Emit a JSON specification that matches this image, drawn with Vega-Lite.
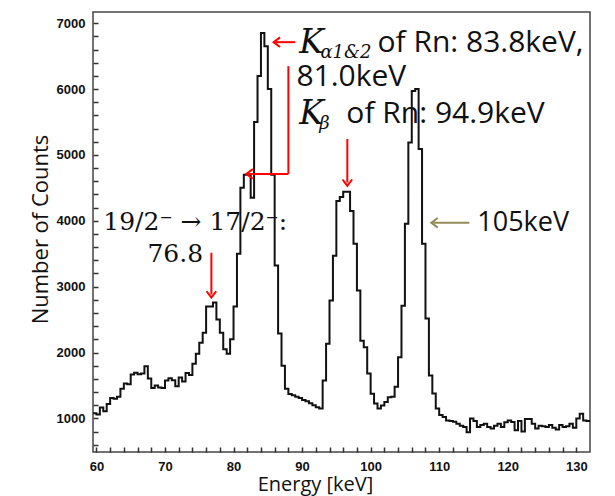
{
  "$schema": "https://vega.github.io/schema/vega-lite/v6.json",
  "width": 497,
  "height": 440,
  "autosize": {"type": "none"},
  "padding": {"left": 93, "top": 12, "right": 25, "bottom": 44},
  "background": "white",
  "config": {"view": {"stroke": "#444", "strokeWidth": 1.5}},
  "datasets": {
    "spectrum": [
      {"E": 59.5, "counts": 1080}, {"E": 60.0, "counts": 1060}, {"E": 60.5, "counts": 1165}, {"E": 61.0, "counts": 1110},
      {"E": 61.5, "counts": 1220}, {"E": 62.0, "counts": 1310}, {"E": 62.5, "counts": 1300}, {"E": 63.0, "counts": 1330},
      {"E": 63.5, "counts": 1450}, {"E": 64.0, "counts": 1530}, {"E": 64.5, "counts": 1520}, {"E": 65.0, "counts": 1665},
      {"E": 65.5, "counts": 1695}, {"E": 66.0, "counts": 1670}, {"E": 66.5, "counts": 1680}, {"E": 67.0, "counts": 1790},
      {"E": 67.5, "counts": 1605}, {"E": 68.0, "counts": 1460}, {"E": 68.5, "counts": 1500}, {"E": 69.0, "counts": 1470},
      {"E": 69.5, "counts": 1460}, {"E": 70.0, "counts": 1575}, {"E": 70.5, "counts": 1610}, {"E": 71.0, "counts": 1580},
      {"E": 71.5, "counts": 1490}, {"E": 72.0, "counts": 1620}, {"E": 72.5, "counts": 1560}, {"E": 73.0, "counts": 1690},
      {"E": 73.5, "counts": 1660}, {"E": 74.0, "counts": 1830}, {"E": 74.5, "counts": 1980}, {"E": 75.0, "counts": 2150},
      {"E": 75.5, "counts": 2300}, {"E": 76.0, "counts": 2700}, {"E": 76.5, "counts": 2700}, {"E": 77.0, "counts": 2760},
      {"E": 77.5, "counts": 2500}, {"E": 78.0, "counts": 2300}, {"E": 78.5, "counts": 2050}, {"E": 79.0, "counts": 1980},
      {"E": 79.5, "counts": 2200}, {"E": 80.0, "counts": 2700}, {"E": 80.5, "counts": 3500}, {"E": 81.0, "counts": 4500},
      {"E": 81.5, "counts": 4700}, {"E": 82.0, "counts": 4700}, {"E": 82.5, "counts": 4350}, {"E": 83.0, "counts": 5500},
      {"E": 83.5, "counts": 6200}, {"E": 84.0, "counts": 6850}, {"E": 84.5, "counts": 6650}, {"E": 85.0, "counts": 6000},
      {"E": 85.5, "counts": 4700}, {"E": 86.0, "counts": 3320}, {"E": 86.5, "counts": 2290}, {"E": 87.0, "counts": 1800},
      {"E": 87.5, "counts": 1450}, {"E": 88.0, "counts": 1370}, {"E": 88.5, "counts": 1350}, {"E": 89.0, "counts": 1330},
      {"E": 89.5, "counts": 1310}, {"E": 90.0, "counts": 1280}, {"E": 90.5, "counts": 1260}, {"E": 91.0, "counts": 1230},
      {"E": 91.5, "counts": 1200}, {"E": 92.0, "counts": 1170}, {"E": 92.5, "counts": 1150}, {"E": 93.0, "counts": 1575},
      {"E": 93.5, "counts": 2135}, {"E": 94.0, "counts": 2790}, {"E": 94.5, "counts": 3470}, {"E": 95.0, "counts": 4300},
      {"E": 95.5, "counts": 4360}, {"E": 96.0, "counts": 4440}, {"E": 96.5, "counts": 4440}, {"E": 97.0, "counts": 4150},
      {"E": 97.5, "counts": 3650}, {"E": 98.0, "counts": 2940}, {"E": 98.5, "counts": 2180}, {"E": 99.0, "counts": 2080},
      {"E": 99.5, "counts": 1680}, {"E": 100.0, "counts": 1375}, {"E": 100.5, "counts": 1225}, {"E": 101.0, "counts": 1150},
      {"E": 101.5, "counts": 1195}, {"E": 102.0, "counts": 1250}, {"E": 102.5, "counts": 1320}, {"E": 103.0, "counts": 1330},
      {"E": 103.5, "counts": 1480}, {"E": 104.0, "counts": 1930}, {"E": 104.5, "counts": 2710}, {"E": 105.0, "counts": 3955},
      {"E": 105.5, "counts": 5190}, {"E": 106.0, "counts": 5970}, {"E": 106.5, "counts": 6000}, {"E": 107.0, "counts": 5090},
      {"E": 107.5, "counts": 3650}, {"E": 108.0, "counts": 2515}, {"E": 108.5, "counts": 1650}, {"E": 109.0, "counts": 1380},
      {"E": 109.5, "counts": 1150}, {"E": 110.0, "counts": 1050}, {"E": 110.5, "counts": 1020}, {"E": 111.0, "counts": 970},
      {"E": 111.5, "counts": 960}, {"E": 112.0, "counts": 950}, {"E": 112.5, "counts": 920}, {"E": 113.0, "counts": 890},
      {"E": 113.5, "counts": 870}, {"E": 114.0, "counts": 790}, {"E": 114.5, "counts": 1000}, {"E": 115.0, "counts": 960},
      {"E": 115.5, "counts": 870}, {"E": 116.0, "counts": 900}, {"E": 116.5, "counts": 920}, {"E": 117.0, "counts": 870},
      {"E": 117.5, "counts": 845}, {"E": 118.0, "counts": 890}, {"E": 118.5, "counts": 920}, {"E": 119.0, "counts": 870},
      {"E": 119.5, "counts": 940}, {"E": 120.0, "counts": 970}, {"E": 120.5, "counts": 945}, {"E": 121.0, "counts": 820},
      {"E": 121.5, "counts": 960}, {"E": 122.0, "counts": 800}, {"E": 122.5, "counts": 990}, {"E": 123.0, "counts": 990},
      {"E": 123.5, "counts": 920}, {"E": 124.0, "counts": 845}, {"E": 124.5, "counts": 890}, {"E": 125.0, "counts": 880},
      {"E": 125.5, "counts": 870}, {"E": 126.0, "counts": 900}, {"E": 126.5, "counts": 860}, {"E": 127.0, "counts": 830},
      {"E": 127.5, "counts": 900}, {"E": 128.0, "counts": 870}, {"E": 128.5, "counts": 880}, {"E": 129.0, "counts": 920},
      {"E": 129.5, "counts": 860}, {"E": 130.0, "counts": 1000}, {"E": 130.5, "counts": 1070}, {"E": 131.0, "counts": 970},
      {"E": 131.5, "counts": 960}, {"E": 132.0, "counts": 960}
    ],
    "redRules": [
      {"E": 89.0, "counts": 6712, "E2": 86.0, "counts2": 6712},
      {"E": 88.0, "counts": 6348, "E2": 88.0, "counts2": 4712},
      {"E": 88.0, "counts": 4712, "E2": 82.0, "counts2": 4712},
      {"E": 96.6, "counts": 5242, "E2": 96.6, "counts2": 4580},
      {"E": 76.77, "counts": 3515, "E2": 76.77, "counts2": 2880}
    ],
    "redHeadsLeft": [
      {"E": 85.85, "counts": 6712},
      {"E": 81.87, "counts": 4712}
    ],
    "redHeadsDown": [
      {"E": 96.6, "counts": 4530},
      {"E": 76.77, "counts": 2833}
    ],
    "oliveRule": [
      {"E": 114.4, "counts": 3969, "E2": 109.0, "counts2": 3969}
    ],
    "oliveHead": [
      {"E": 108.85, "counts": 3969}
    ],
    "sansText": [
      {"E": 101.0, "counts": 6696, "label": "of Rn: 83.8keV,"},
      {"E": 89.17, "counts": 6181, "label": "81.0keV"},
      {"E": 96.46, "counts": 5621, "label": "of Rn: 94.9keV"}
    ],
    "smallSansText": [
      {"E": 115.56, "counts": 3969, "label": "105keV"}
    ],
    "kText": [
      {"E": 89.6, "counts": 6696, "label": "K"},
      {"E": 89.6, "counts": 5621, "label": "K"}
    ],
    "subText": [
      {"E": 92.67, "counts": 6545, "label": "α1&2"},
      {"E": 92.5, "counts": 5470, "label": "β"}
    ],
    "serifText": [
      {"E": 61.0, "counts": 3985, "label": "19/2⁻ → 17/2⁻:"},
      {"E": 67.44, "counts": 3500, "label": "76.8"}
    ]
  },
  "encoding": {
    "x": {
      "field": "E",
      "type": "quantitative",
      "scale": {"domain": [59.5, 132], "nice": false, "zero": false},
      "axis": {
        "values": [60,62,64,66,68,70,72,74,76,78,80,82,84,86,88,90,92,94,96,98,100,102,104,106,108,110,112,114,116,118,120,122,124,126,128,130],
        "labelExpr": "datum.value % 10 === 0 ? datum.label : ''",
        "offset": -5,
        "domain": false,
        "ticks": true,
        "tickSize": 5,
        "tickWidth": 1.5,
        "tickColor": "#333",
        "labelPadding": 8,
        "labelFont": "Liberation Sans",
        "labelFontWeight": "bold",
        "labelFontSize": 13,
        "labelColor": "#111",
        "labelOverlap": false,
        "labelFlush": false,
        "grid": false,
        "title": "Energy [keV]",
        "titleFont": "Open Sans",
        "titleFontSize": 20,
        "titleFontWeight": "normal",
        "titleColor": "#111",
        "titleX": 222,
        "titleY": 37,
        "titleBaseline": "middle"
      }
    },
    "y": {
      "field": "counts",
      "type": "quantitative",
      "scale": {"domain": [490, 7170], "nice": false, "zero": false},
      "axis": {
        "values": [600,800,1000,1200,1400,1600,1800,2000,2200,2400,2600,2800,3000,3200,3400,3600,3800,4000,4200,4400,4600,4800,5000,5200,5400,5600,5800,6000,6200,6400,6600,6800,7000],
        "labelExpr": "datum.value % 1000 === 0 ? datum.value : ''",
        "offset": -5,
        "domain": false,
        "ticks": true,
        "tickSize": 5,
        "tickWidth": 1.5,
        "tickColor": "#333",
        "labelPadding": 8,
        "labelFont": "Liberation Sans",
        "labelFontWeight": "bold",
        "labelFontSize": 13,
        "labelColor": "#111",
        "labelOverlap": false,
        "labelFlush": false,
        "grid": false,
        "title": "Number of Counts",
        "titleFont": "Open Sans",
        "titleFontSize": 22,
        "titleFontWeight": "normal",
        "titleColor": "#111",
        "titleX": -58,
        "titleY": 217,
        "titleAngle": -90,
        "titleAlign": "center",
        "titleBaseline": "middle"
      }
    }
  },
  "layer": [
    {
      "data": {"name": "spectrum"},
      "mark": {"type": "line", "interpolate": "step-after", "color": "#111", "strokeWidth": 2}
    },
    {
      "data": {"name": "redRules"},
      "mark": {"type": "rule", "color": "#ff0000", "strokeWidth": 2},
      "encoding": {"x2": {"field": "E2"}, "y2": {"field": "counts2"}}
    },
    {
      "data": {"name": "redHeadsLeft"},
      "mark": {"type": "point", "shape": "M0.8,-0.6L0,0L0.8,0.6", "size": 256, "filled": false, "stroke": "#ff0000", "strokeWidth": 2, "opacity": 1}
    },
    {
      "data": {"name": "redHeadsDown"},
      "mark": {"type": "point", "shape": "M-0.6,-0.8L0,0L0.6,-0.8", "size": 256, "filled": false, "stroke": "#ff0000", "strokeWidth": 2, "opacity": 1}
    },
    {
      "data": {"name": "oliveRule"},
      "mark": {"type": "rule", "color": "#958b5a", "strokeWidth": 2},
      "encoding": {"x2": {"field": "E2"}, "y2": {"field": "counts2"}}
    },
    {
      "data": {"name": "oliveHead"},
      "mark": {"type": "point", "shape": "M0.8,-0.6L0,0L0.8,0.6", "size": 256, "filled": false, "stroke": "#958b5a", "strokeWidth": 2, "opacity": 1}
    },
    {
      "data": {"name": "sansText"},
      "mark": {"type": "text", "font": "Open Sans", "fontSize": 30, "align": "left", "baseline": "middle", "color": "#111"},
      "encoding": {"text": {"field": "label"}}
    },
    {
      "data": {"name": "smallSansText"},
      "mark": {"type": "text", "font": "Open Sans", "fontSize": 27, "align": "left", "baseline": "middle", "color": "#111"},
      "encoding": {"text": {"field": "label"}}
    },
    {
      "data": {"name": "kText"},
      "mark": {"type": "text", "font": "DejaVu Serif", "fontStyle": "italic", "fontSize": 33, "align": "left", "baseline": "middle", "color": "#111"},
      "encoding": {"text": {"field": "label"}}
    },
    {
      "data": {"name": "subText"},
      "mark": {"type": "text", "font": "DejaVu Serif", "fontStyle": "italic", "fontSize": 18, "align": "left", "baseline": "middle", "color": "#111"},
      "encoding": {"text": {"field": "label"}}
    },
    {
      "data": {"name": "serifText"},
      "mark": {"type": "text", "font": "DejaVu Serif", "fontSize": 25, "align": "left", "baseline": "middle", "color": "#111"},
      "encoding": {"text": {"field": "label"}}
    }
  ]
}
